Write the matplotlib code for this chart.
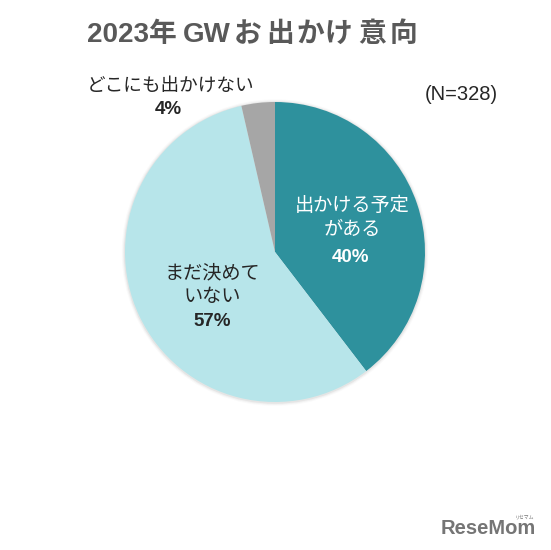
import matplotlib
matplotlib.use('Agg')
import matplotlib.pyplot as plt

plt.rcParams['font.family'] = ['Liberation Sans', 'Noto Sans CJK JP', 'DejaVu Sans']

# shares, labels are the rounded ones on the chart
labels = ['出かける予定\nがある', 'まだ決めて\nいない', 'どこにも出かけない']
shares = [39.6, 56.8, 3.6]
pct_labels = ['40%', '57%', '4%']
colors = ['#2e919d', '#b7e5ea', '#a6a6a6']
text_colors = ['white', '#262626', '#262626']

W, H = 551, 550
fig = plt.figure(figsize=[W / 100, H / 100], dpi=100, facecolor='white')


def px(x, y):
    return x / W, 1 - y / H


ax = fig.add_axes([125 / W, 1 - 402 / H, 300 / W, 300 / H])

# soft shadow under the pie
for r, a in [(1.022, 0.02), (1.015, 0.03), (1.008, 0.05)]:
    ax.add_patch(plt.Circle((0, -0.004), r, color='black', alpha=a, lw=0, clip_on=False))

ax.pie(shares, colors=colors, startangle=90, counterclock=False, radius=1,
       wedgeprops={'linewidth': 0, 'clip_on': False})
ax.set_xlim(-1, 1)
ax.set_ylim(-1, 1)
ax.axis('off')

title_color = '#595959'
fig.text(*px(87, 35), '2023年', fontsize=20, fontweight='bold', color=title_color, va='center')
fig.text(*px(183, 35), 'GW', fontsize=20, fontweight='bold', color=title_color, va='center')
for x, ch in zip([248, 280, 310, 338, 372, 403], 'お出かけ意向'):
    fig.text(*px(x, 35), ch, fontsize=20, fontweight='bold', color=title_color,
             va='center', ha='center')

fig.text(*px(461, 95), '(N=328)', fontsize=14.5, color='#262626', ha='center', va='center')

# slice labels
fig.text(*px(171, 86), labels[2], fontsize=13.4, color=text_colors[2], ha='center', va='center')
fig.text(*px(168, 110), pct_labels[2], fontsize=13.5, fontweight='bold', color=text_colors[2],
         ha='center', va='center')

fig.text(*px(352, 218), labels[0], fontsize=13.8, color=text_colors[0], ha='center', va='center',
         linespacing=1.5)
fig.text(*px(351, 257), pct_labels[0], fontsize=13.5, fontweight='bold', color=text_colors[0],
         ha='center', va='center')

fig.text(*px(212, 285), labels[1], fontsize=13.8, color=text_colors[1], ha='center', va='center',
         linespacing=1.5)
fig.text(*px(212, 322), pct_labels[1], fontsize=13.5, fontweight='bold', color=text_colors[1],
         ha='center', va='center')

# watermark
fig.text(*px(441, 529), 'ReseMom', fontsize=14.5, fontweight='bold', color='#757575', va='center')
fig.text(*px(525, 517), 'リセマム', fontsize=3.5, color='#757575', ha='center', va='center')

fig.savefig('out.png', dpi=100)
